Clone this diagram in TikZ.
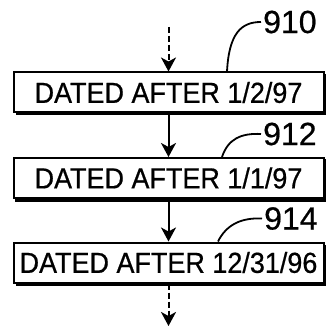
\documentclass[tikz,border=0pt]{standalone}
\usepackage{fontspec}
\setmainfont{Liberation Sans}[FakeBold=0.6]
\newfontfamily\boxfont{Liberation Sans}[FakeBold=0.6,FakeStretch=0.93]
\usetikzlibrary{arrows.meta,calc}
\begin{document}
\begin{tikzpicture}[x=1pt,y=-1pt,
  datebox/.style={draw,line width=2pt,fill=white,minimum width=310pt,minimum height=40pt,inner sep=0pt,font=\boxfont\fontsize{29}{30}\selectfont},
  reflabel/.style={anchor=west,inner sep=0pt,font=\fontsize{32}{34}\selectfont},
  flow/.style={line width=2pt,-{Stealth[length=14pt,width=15pt,inset=4pt]}},
  dflow/.style={flow,dash pattern=on 6pt off 3pt},
  leader/.style={line width=1.8pt}]
\useasboundingbox (0,0) rectangle (326,328);
% shadows
\fill (15.5,74.5) rectangle (326,115.5);
\fill (14.5,159.5) rectangle (326,201.5);
\fill (15.5,244.5) rectangle (326,285.5);
\node[datebox] (b1) at (168.5,92.5) {DATED AFTER 1/2/97};
\node[datebox] (b2) at (168.5,178) {DATED AFTER 1/1/97};
\node[datebox] (b3) at (168.5,262.5) {DATED AFTER 12/31/96};
\coordinate (top) at (168.5,27);
\coordinate (bot) at (168.5,326);
\draw[dflow] (top) -- (b1.north);
\draw[flow] (b1.south) -- (b2.north);
\draw[flow] (b2.south) -- (b3.north);
\draw[dflow] (b3.south) -- (bot);
\node[reflabel] (l1) at (263,22) {910};
\node[reflabel] (l2) at (263,134) {912};
\node[reflabel] (l3) at (264,218.5) {914};
\coordinate (s1) at ([xshift=58.5pt]b1.north);
\coordinate (s2) at ([xshift=53.5pt]b2.north);
\coordinate (s3) at ([xshift=49.5pt]b3.north);
\draw[leader] (s1) .. controls ($(s1)+(2,-38)$) and ($(l1.west)+(-22,0)$) .. ($(l1.west)+(-2,0)$);
\draw[leader] (s2) .. controls ($(s2)+(6,-18)$) and ($(l2.west)+(-22,-1)$) .. ($(l2.west)+(-2,0)$);
\draw[leader] (s3) .. controls ($(s3)+(8,-16)$) and ($(l3.west)+(-24,-1)$) .. ($(l3.west)+(-2,0)$);
\end{tikzpicture}
\end{document}
